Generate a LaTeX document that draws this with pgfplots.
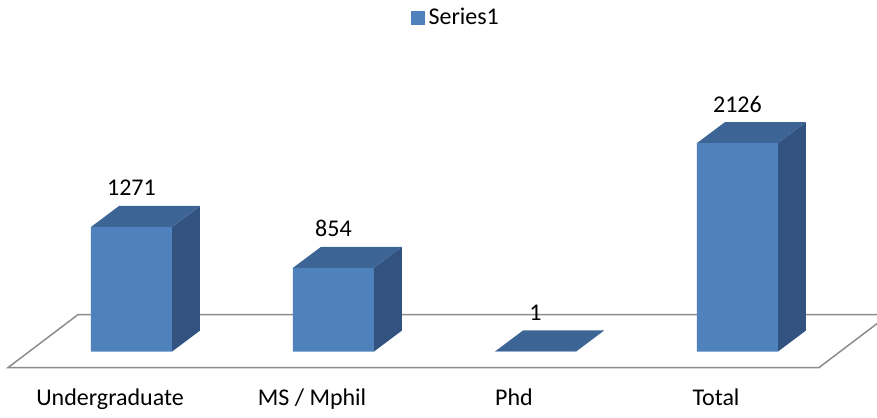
\documentclass[border=0pt]{standalone}
\usepackage{pgfplots}
\pgfplotsset{compat=1.18}
\usepackage{fontspec}
\setmainfont{Carlito}

\definecolor{frontc}{HTML}{4F81BD}
\definecolor{topc}{HTML}{3C6494}
\definecolor{sidec}{HTML}{32537F}
\definecolor{floorc}{HTML}{8C8C8C}

% half bar width and the depth offset, in axis units
\def\hw{0.2005}
\def\dx{0.1386}
\def\dy{214}

% side and top face of one bar: #1 = category position, #2 = value
\newcommand{\depthfaces}[2]{%
  \pgfmathsetmacro{\xa}{#1+\hw}%
  \pgfmathsetmacro{\xb}{#1+\hw+\dx}%
  \pgfmathsetmacro{\xc}{#1-\hw}%
  \pgfmathsetmacro{\xd}{#1-\hw+\dx}%
  \pgfmathsetmacro{\ya}{#2+\dy}%
  \addplot[fill=sidec, draw=none, forget plot]
    coordinates {(\xa,0) (\xb,\dy) (\xb,\ya) (\xa,#2)} -- cycle;
  \addplot[fill=topc, draw=none, forget plot]
    coordinates {(\xc,#2) (\xa,#2) (\xb,\ya) (\xd,\ya)} -- cycle;
}

\begin{document}
\fontsize{12}{14}\selectfont
\begin{tikzpicture}
\begin{axis}[
    scale only axis,
    width=438.5pt, height=206pt,
    xmin=-0.651, xmax=3.691,
    ymin=-622, ymax=3580,
    axis line style={draw=none},
    major tick length=0pt,
    ytick=\empty,
    xtick={-0.106,0.894,1.894,2.894},
    xticklabels={Undergraduate,MS / Mphil,Phd,Total},
    xticklabel style={anchor=base, yshift=3.5pt, font=\fontsize{12}{14}\selectfont},
    /pgf/number format/assume math mode=true,
    /pgf/number format/1000 sep={},
    legend style={at={(0.521,1)}, anchor=center, yshift=-8.75pt,
        draw=none, fill=none, font=\fontsize{12}{14}\selectfont},
    legend image code/.code={
        \fill[frontc] (0pt,-3.4pt) rectangle (6.8pt,3.4pt);},
]
% floor
\addplot[draw=floorc, line width=0.75pt, forget plot]
    coordinates {(-0.611,-163) (3.404,-163) (3.750,377) (-0.265,377)} -- cycle;

\depthfaces{0}{1271}
\depthfaces{1}{854}
\depthfaces{2}{1}
\depthfaces{3}{2126}

\addplot[ybar, bar width=40.5pt, fill=frontc, draw=none,
    nodes near coords,
    every node near coord/.append style={anchor=base, yshift=15.5pt,
        font=\fontsize{12}{14}\selectfont, black}]
    coordinates {(0,1271) (1,854) (2,1) (3,2126)};
\addlegendentry{Series1}
\end{axis}
\end{tikzpicture}
\end{document}
